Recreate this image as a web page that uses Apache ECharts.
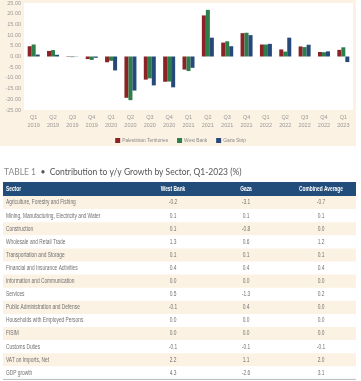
<!DOCTYPE html>
<html><head><meta charset="utf-8">
<script src="https://cdn.jsdelivr.net/npm/echarts@6/dist/echarts.min.js"></script>
<style>html,body{margin:0;padding:0;background:#fff}#c{width:361px;height:381px}</style>
</head><body><div id="c"></div>
<script>
const categories = ['Q1\n2019','Q2\n2019','Q3\n2019','Q4\n2019','Q1\n2020','Q2\n2020','Q3\n2020','Q4\n2020','Q1\n2021','Q2\n2021','Q3\n2021','Q4\n2021','Q1\n2022','Q2\n2022','Q3\n2022','Q4\n2022','Q1\n2023'];
const seriesNames = ['Palestinian Territories','West Bank','Gaza Strip'];
const palestinian = [4.8, 2.6, -0.2, -1.2, -2.7, -19.3, -10.8, -11.8, -6.1, 19.2, 6.5, 10.9, 5.6, 3.3, 4.7, 2.1, 3.1];
const westBankGrowth = [5.6, 3.0, -0.3, -1.6, -2.0, -20.4, -10.2, -11.7, -6.8, 21.8, 7.1, 11.1, 5.6, 2.3, 4.4, 2.0, 4.3];
const gazaGrowth = [0.9, 0.8, 0.1, -0.6, -6.5, -15.9, -13.5, -14.4, -5.3, 8.8, 4.8, 10.0, 5.9, 8.8, 5.5, 2.4, -2.6];
const yTicks = {min: -25, max: 25, interval: 5};

const tableTitleLead = 'TABLE 1';
const tableTitle = 'Contribution to y/y Growth by Sector, Q1-2023 (%)';
const tableHeaders = ['Sector','West Bank','Gaza','Combined Average'];
const sectors = ['Agriculture, Forestry and Fishing','Mining, Manufacturing, Electricity and Water','Construction','Wholesale and Retail Trade','Transportation and Storage','Financial and Insurance Activities','Information and Communication','Services','Public Administration and Defense','Households with Employed Persons','FISIM','Customs Duties','VAT on Imports, Net','GDP growth'];
const colWestBank = ['-0.2','0.1','0.1','1.3','0.1','0.4','0.0','0.5','-0.1','0.0','0.0','-0.1','2.2','4.3'];
const colGaza = ['-3.1','0.1','-0.8','0.6','0.1','0.4','0.0','-1.3','0.4','0.0','0.0','-0.1','1.1','-2.6'];
const colCombined = ['-0.7','0.1','0.0','1.2','0.1','0.4','0.0','0.2','0.0','0.0','0.0','-0.1','2.0','3.1'];

const colors = ['#8B2326','#2C7E4A','#26497A'];
const beige = '#FBF2E3';
const sans = "'Liberation Sans',Arial,sans-serif";

const chart = echarts.init(document.getElementById('c'), null, {renderer:'canvas'});

// table graphics (layout only)
const g = [];
g.push({type:'rect', z:-10, shape:{x:0,y:0,width:356,height:146}, style:{fill:beige}});
g.push({type:'text', left:4, top:168, style:{
  text:'{a|' + tableTitleLead + '}{b|  •  ' + tableTitle + '}',
  rich:{a:{fill:'#8a8a8a',fontSize:8.5,fontFamily:'Lato, sans-serif'},b:{fill:'#555',fontSize:8.5,fontFamily:'Lato, sans-serif'}}
}});
const tx = 3, tw = 353, headerY = 182, headerH = 14, rowH = 13.1;
const colX = [6, 173, 246, 321];
const sx = 0.69;
g.push({type:'rect', shape:{x:tx,y:headerY,width:tw,height:headerH}, style:{fill:'#224C79'}});
tableHeaders.forEach((h,i)=>{
  g.push({type:'text', x:colX[i], y:headerY+headerH/2, scaleX:sx, style:{text:h, fill:'#fff', fontSize:7, fontWeight:'bold', fontFamily:sans, align:i===0?'left':'center', verticalAlign:'middle'}});
});
sectors.forEach((s,r)=>{
  const y0 = headerY + headerH + r*rowH;
  if (r%2===0) g.push({type:'rect', shape:{x:tx,y:y0,width:tw,height:rowH}, style:{fill:beige}});
  const vals = [s, colWestBank[r], colGaza[r], colCombined[r]];
  vals.forEach((v,i)=>{
    g.push({type:'text', x:colX[i], y:y0+rowH/2, scaleX:sx, style:{text:v, fill:'#707070', fontSize:7, fontFamily:sans, align:i===0?'left':'center', verticalAlign:'middle'}});
  });
});
const tableBottom = headerY + headerH + sectors.length*rowH;
g.push({type:'line', shape:{x1:tx,y1:tableBottom,x2:tx+tw,y2:tableBottom}, style:{stroke:'#bbb', lineWidth:1}});

const mk = (name, data, c) => ({name, type:'bar', data, barWidth:4, barGap:'0%', itemStyle:{color:c}});

chart.setOption({
  backgroundColor:'#fff',
  animation:false,
  textStyle:{fontFamily:sans},
  grid:{left:24, right:8, top:0, bottom:271, show:true, backgroundColor:'#fff', borderWidth:0, z:0},
  legend:{data:seriesNames, top:133, left:'center', itemWidth:5, itemHeight:5, itemGap:9, icon:'rect',
    textStyle:{fontSize:4.8, color:'#888', fontFamily:sans, padding:[0,0,0,-3]}},
  xAxis:{type:'category', data:categories, axisLine:{show:false}, axisTick:{show:false},
    axisLabel:{fontSize:5.5, color:'#999', lineHeight:8, margin:3, interval:0, fontFamily:sans}},
  yAxis:{type:'value', min:yTicks.min, max:yTicks.max, interval:yTicks.interval,
    axisLine:{show:false}, axisTick:{show:false}, splitLine:{show:false},
    axisLabel:{fontSize:5.5, color:'#999', margin:3, fontFamily:sans, formatter:v=>v.toFixed(2)}},
  series:[mk(seriesNames[0], palestinian, colors[0]), mk(seriesNames[1], westBankGrowth, colors[1]), mk(seriesNames[2], gazaGrowth, colors[2])],
  graphic:g
});
</script></body></html>
